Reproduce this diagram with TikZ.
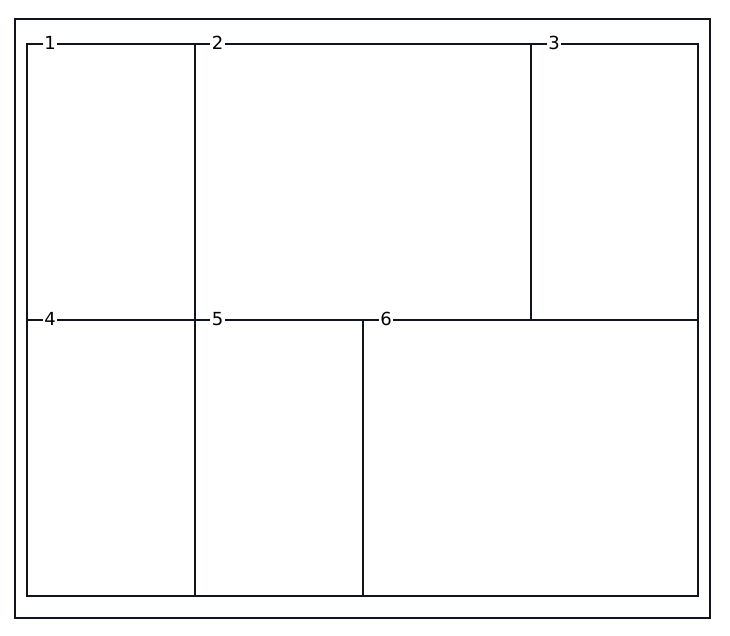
\documentclass[tikz,border=0pt]{standalone}
\usepackage{fontspec}
\setmainfont{DejaVu Sans}
\definecolor{linec}{RGB}{15,20,30}
\begin{document}
\begin{tikzpicture}[x=1pt,y=-1pt,
  cell/.style={draw=linec,line width=1.8pt,rectangle,inner sep=0pt,anchor=north west},
  lbl/.style={fill=white,inner sep=1.5pt,font=\fontsize{18}{18}\selectfont,text=black}]
\useasboundingbox (0,0) rectangle (730,636);
\node[cell,minimum width=695pt,minimum height=599pt] (outer) at (14,18) {};
\node[cell,minimum width=168pt,minimum height=276pt] (c1) at (26,43) {};
\node[cell,minimum width=336pt,minimum height=276pt] (c2) at (194,43) {};
\node[cell,minimum width=167pt,minimum height=276pt] (c3) at (530,43) {};
\node[cell,minimum width=168pt,minimum height=276pt] (c4) at (26,319) {};
\node[cell,minimum width=168pt,minimum height=276pt] (c5) at (194,319) {};
\node[cell,minimum width=335pt,minimum height=276pt] (c6) at (362,319) {};
\node[lbl] (l1) at ([xshift=24pt]c1.north west) {1};
\node[lbl] (l2) at ([xshift=23.5pt]c2.north west) {2};
\node[lbl] (l3) at ([xshift=24pt]c3.north west) {3};
\node[lbl] (l4) at ([xshift=24pt]c4.north west) {4};
\node[lbl] (l5) at ([xshift=23.5pt]c5.north west) {5};
\node[lbl] (l6) at ([xshift=24pt]c6.north west) {6};
\end{tikzpicture}
\end{document}
